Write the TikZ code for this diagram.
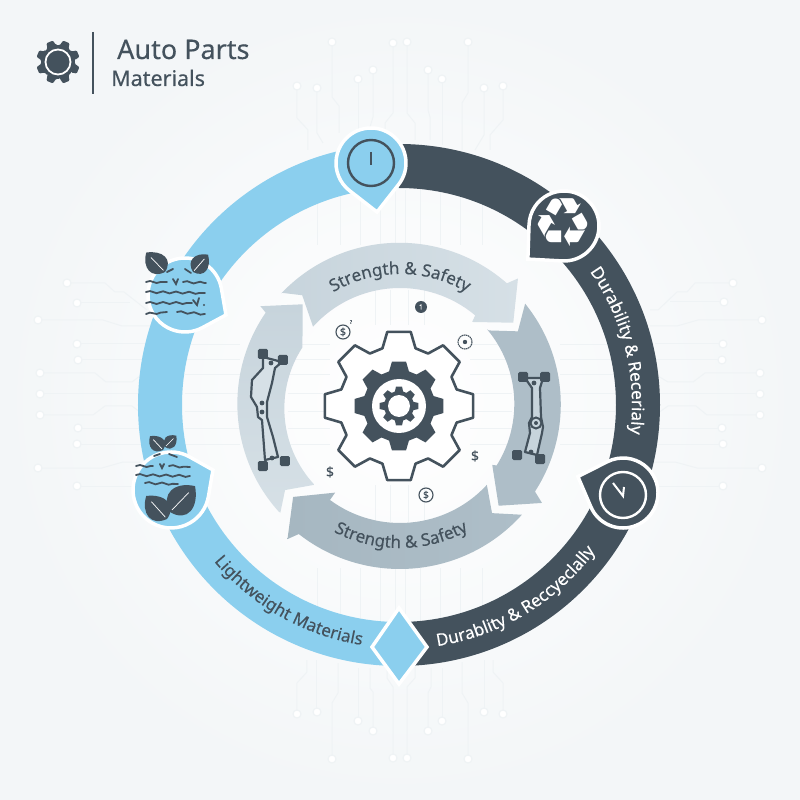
\documentclass[tikz,border=0pt]{standalone}
\usepackage{fontspec}
\setmainfont{Noto Sans}[FakeBold=0.35]
\newfontfamily\symbolfont{DejaVu Sans}
\usetikzlibrary{decorations.text, decorations.pathmorphing}

\definecolor{skyblue}{HTML}{8BCFEE}
\definecolor{slate}{HTML}{44525D}
\definecolor{tracegray}{HTML}{EFF3F5}
\definecolor{arrowpale}{HTML}{D6E0E6}
\definecolor{arrowlight}{HTML}{C7D4DC}
\definecolor{arrowmid}{HTML}{AEBEC8}
\definecolor{arrowdeep}{HTML}{A6B7C1}

\tikzset{
  px/.style={shift={(-400,405)}, y=-1pt},
  trace/.style={draw=tracegray, line width=1pt},
  tracedot/.style={draw=tracegray, line width=1.2pt, fill=white},
  bluepin/.style={fill=skyblue, draw=white, line width=3.5pt},
  darkpin/.style={fill=slate, draw=white, line width=3.5pt},
  wave/.style={draw=slate, line width=1.8pt, line cap=round, decorate,
    decoration={snake, amplitude=1pt, segment length=13pt}},
  stroke/.style={draw=slate, line width=1.8pt, line cap=round},
  armbody/.style={draw=slate, line width=2.2pt, fill=#1, line join=round},
  armpad/.style={fill=slate, rounded corners=1.5pt},
  leaficon/.pic={
    \fill[slate] (0,0) .. controls (.12,.55) and (.65,.5) .. (1,0)
      .. controls (.7,-.5) and (.17,-.55) .. (0,0) -- cycle;
    \draw[white, line width=.7pt] (.08,0) -- (.75,0);
  }
}

% pin: style, centre, radius, tip angle, half opening of the tip, tip distance
\newcommand{\pin}[6]{
  \path[#1, shift={(#2)}] ({#4+#5}:#3) arc[start angle={#4+#5}, delta angle={360-2*#5}, radius=#3]
    -- (#4:#6) -- cycle;
}
% gear: style, centre, root radius, tip radius
\newcommand{\gear}[4]{
  \path[shift={(#2)}, #1] (-16:#3) \foreach \a in {0,45,...,315} {
    -- ({\a-16}:#3) -- ({\a-9}:#4) -- ({\a+9}:#4) -- ({\a+16}:#3) -- ({\a+29}:#3)
  } -- cycle;
}
% curved label: colour, start angle, end angle, radius, text
\newcommand{\arclabel}[5]{
  \path[decorate, decoration={text along path, text align=center,
    text={|\fontsize{17}{20}\selectfont\color{#1}|#5}}]
    (#2:#4) arc[start angle=#2, end angle=#3, radius=#4];
}

\begin{document}
\begin{tikzpicture}[x=1pt, y=1pt]
  \useasboundingbox (-400,-395) rectangle (400,405);
  \shade[inner color=white, outer color=tracegray!75] (-400,-395) rectangle (400,405);

  % circuit traces behind the rings
  \begin{scope}[px]
    \draw[trace] (297,86) -- (297,118) -- (308,130) -- (308,150);
    \draw[trace] (317,88) -- (317,133) -- (323,143);
    \draw[trace] (332,42) -- (332,97) -- (339,106) -- (339,133);
    \draw[trace] (358,79) -- (358,130);
    \draw[trace] (373,70) -- (373,117) -- (370,127);
    \draw[trace] (393,43) -- (393,113) -- (385,123) -- (385,135);
    \draw[trace] (407,42) -- (407,113) -- (415,123) -- (415,140);
    \draw[trace] (428,70) -- (428,110) -- (430,117) -- (430,140);
    \draw[trace] (442,79) -- (442,145);
    \draw[trace] (468,42) -- (468,93) -- (462,103) -- (462,150);
    \draw[trace] (484,88) -- (484,135) -- (475,150);
    \draw[trace] (503,86) -- (503,120) -- (490,135) -- (490,150);
    \draw[trace] (67,283) -- (105,283) -- (115,292) -- (124,292) -- (147,310);
    \draw[trace] (77,303) -- (130,303);
    \draw[trace] (38,320) -- (103,320) -- (122,326) -- (150,326);
    \draw[trace] (40,373) -- (95,373) -- (106,382) -- (132,382) -- (140,376);
    \draw[trace] (40,415) -- (93,415) -- (105,406) -- (132,406) -- (140,412);
    \draw[trace] (38,468) -- (102,468) -- (123,462) -- (140,462);
    \draw[trace] (733,283) -- (695,283) -- (687,292) -- (677,292) -- (658,310) -- (650,310);
    \draw[trace] (724,302) -- (670,302);
    \draw[trace] (762,320) -- (698,320) -- (677,326) -- (650,326);
    \draw[trace] (760,373) -- (705,373) -- (693,382) -- (668,382) -- (658,376);
    \draw[trace] (760,415) -- (707,415) -- (696,406) -- (668,406) -- (658,413);
    \draw[trace] (762,468) -- (697,468) -- (675,462) -- (650,462);
    \foreach \y in {344,360,428,444,486} {
      \draw[trace] (77,\y) -- (145,\y);
      \draw[trace] (655,\y) -- (723,\y);
    }
    \draw[trace] (40,394) -- (145,394);
    \draw[trace] (760,394) -- (655,394);
    \draw[trace] (297,714) -- (297,683) -- (307,672) -- (307,660);
    \draw[trace] (317,712) -- (317,660);
    \draw[trace] (332,759) -- (332,703) -- (338,693) -- (338,663);
    \draw[trace] (358,721) -- (358,668);
    \draw[trace] (373,731) -- (373,692) -- (370,688) -- (370,668);
    \draw[trace] (393,758) -- (393,687) -- (387,678) -- (387,665);
    \draw[trace] (407,758) -- (407,687) -- (415,678) -- (415,665);
    \draw[trace] (428,731) -- (428,693) -- (431,687) -- (431,668);
    \draw[trace] (442,721) -- (442,668);
    \draw[trace] (468,759) -- (468,703) -- (462,693) -- (462,662);
    \draw[trace] (484,712) -- (484,660);
    \draw[trace] (503,714) -- (503,683) -- (493,672) -- (493,660);
    \foreach \x/\y in {297/86,317/88,332/42,358/79,373/70,393/43,407/42,428/70,442/79,468/42,484/88,503/86,
      67/283,77/303,38/320,77/344,78/360,40/373,40/394,40/415,78/428,77/444,38/468,77/486,
      733/283,724/302,762/320,723/344,722/360,760/373,760/394,760/415,722/428,723/444,762/468,723/486,
      297/714,317/712,332/759,358/721,373/731,393/758,407/758,428/731,442/721,468/759,484/712,503/714}
      \draw[tracedot] (\x,\y) circle[radius=4];
    % traces between the rings and inside the small ring
    \foreach \y in {345,360,375,394,412,428,444} {
      \draw[trace] (185,\y) -- (240,\y);
      \draw[trace] (560,\y) -- (615,\y);
      \draw[trace] (288,\y) -- (330,\y);
      \draw[trace] (470,\y) -- (512,\y);
    }
    \foreach \x in {318,340,360,380,395,405,420,440,460,482} {
      \draw[trace] (\x,190) -- (\x,245);
      \draw[trace] (\x,568) -- (\x,622);
    }
    \foreach \x in {375,390,408,424} {
      \draw[trace] (\x,290) -- (\x,325);
      \draw[trace] (\x,485) -- (\x,522);
    }
  \end{scope}

  % outer ring
  \begin{scope}[xshift=-1pt]
    \fill[skyblue] (90:261) arc[start angle=90, end angle=270, radius=261]
      -- (270:217) arc[start angle=270, end angle=90, radius=217] -- cycle;
    \fill[slate] (90:261) arc[start angle=90, end angle=-90, radius=261]
      -- (-90:217) arc[start angle=-90, end angle=90, radius=217] -- cycle;
  \end{scope}

  % inner arrows
  \shade[left color=arrowlight, right color=arrowpale] (136.5:163) -- (131.7:147) -- (138:117)
    arc[start angle=138, end angle=50, radius=117] -- (49:110) -- (36:140) -- (47:173) -- (48.7:162)
    arc[start angle=48.7, end angle=136.5, radius=163] -- cycle;
  \fill[arrowmid] (40:116) -- (32:139) -- (39:161)
    arc[start angle=39, end angle=-33, radius=160] -- (-34.6:172.5) -- (-45.6:141) -- (-33:110) -- (-32:114)
    arc[start angle=-32, end angle=40, radius=116] -- cycle;
  \shade[left color=arrowdeep, right color=arrowmid] (-42.6:118) -- (-49.6:142) -- (-42:164)
    arc[start angle=-42, end angle=-128.1, radius=164] -- (-130:175) -- (-139.3:141) -- (-126.5:109) -- (-126.4:118)
    arc[start angle=-126.4, end angle=-42.6, radius=118] -- cycle;
  \shade[top color=arrowlight, bottom color=arrowpale] (222:161) -- (216.5:143) -- (223:117)
    arc[start angle=223, end angle=147, radius=112] -- (134:140) -- (144.7:171) -- (145.5:163)
    arc[start angle=145.5, end angle=222, radius=161] -- cycle;

  % central gear
  \gear{fill=white, draw=slate, line width=2.6pt, line join=round}{-1,-1}{60}{75}
  \gear{fill=slate}{-1,-1}{36}{45}
  \fill[white] (-1,-1) circle[radius=27];
  \gear{fill=slate}{-1,-1}{15}{19.5}
  \fill[white] (-1,-1) circle[radius=11];

  % pins and diamond over the ring
  \pin{bluepin}{-29,242}{35}{-83}{44.9}{49.4}
  \pin{darkpin}{164,179}{35}{222.5}{44.4}{49}
  \pin{darkpin}{223,-88}{35}{160}{43.2}{48}
  \pin{bluepin}{-215,110}{37}{-26}{35.8}{45.6}
  \pin{bluepin}{-229,-85}{38}{25.5}{35.2}{46.5}
  \path[bluepin] (-1,-203) -- (-28,-242) -- (-1,-279) -- (27,-242) -- cycle;

  % ring labels
  \arclabel{white}{36}{-8}{232}{Durability {\&} Recerialy}
  \arclabel{white}{-85}{-33}{244}{Durablity {\&} Reccyeclally}
  \arclabel{slate}{219}{262}{243}{Lightweight Materials}
  \arclabel{slate}{122}{58}{131}{Strength {\&} Safety}
  \arclabel{slate}{241}{300}{143}{Strength {\&} Safety}

  \begin{scope}[px]
    % pin icons
    \draw[slate, line width=2.4pt] (371,163) circle[radius=23];
    \draw[slate, line width=2.4pt] (371,152) -- (371,165);
    \node[white, font=\symbolfont\fontsize{68}{72}\selectfont, inner sep=0pt] (recycle) at (563,223) {♻};
    \draw[white, line width=2.4pt] (623,495) circle[radius=23];
    \draw[white, line width=2pt] (613,483) -- (623,496) -- (624,487);

    % leaves and waves of the upper pin
    \pic[rotate=134, scale=27] at (165,272) {leaficon};
    \pic[rotate=49, scale=23] at (193,272) {leaficon};
    \draw[wave] (146,282) -- (167,282);
    \draw[wave] (183,282) -- (206,283);
    \draw[wave] (146,292) -- (205,293);
    \draw[wave] (146,303) -- (192,303);
    \draw[wave] (146,314) -- (167,312);
    \draw[wave] (177,312) -- (205,314);
    \draw[stroke] (167,272) -- (173,269);
    \draw[stroke] (185,269) -- (191,273);
    \draw[stroke] (173,279) -- (176,284) -- (178,279);
    \draw[stroke] (193,300) -- (197,305) -- (199,298);
    \fill[slate] (204,305) circle[radius=1.1];

    % leaves and waves of the lower pin
    \pic[rotate=132, scale=31] at (167,519) {leaficon};
    \pic[rotate=46, scale=36] at (170,512) {leaficon};
    \pic[rotate=133, scale=19] at (163,450) {leaficon};
    \pic[rotate=45, scale=16] at (165,447) {leaficon};
    \draw[wave] (136,466) -- (153,466);
    \draw[wave] (169,466) -- (190,467);
    \draw[wave] (136,475) -- (190,476);
    \draw[wave] (145,483) -- (178,484);
    \draw[stroke] (154,456) -- (160,454);
    \draw[stroke] (169,454) -- (177,457);
    \draw[stroke] (160,464) -- (162,468) -- (164,464);

    % left arm
    \draw[armbody=arrowpale] (263,357) -- (282,362) -- (275,368) -- (272,383) -- (267,402) -- (267,417)
      -- (273,437) -- (278,457) -- (265,460) -- (262,420) -- (258,417) -- (257,407)
      -- (251,397) -- (252,380) -- (263,368) -- cycle;
    \foreach \x/\y in {263/354,283/360,263/466,285/461}
      \fill[armpad] (\x-5,\y-5) rectangle (\x+5,\y+5);
    \foreach \x/\y in {271/363,262/403,262/412,272/458}
      \fill[slate] (\x,\y) circle[radius=2.4];

    % right arm
    \draw[armbody=arrowlight] (525,378) -- (543,378) -- (540,388) -- (541,417) -- (543,427) -- (542,433)
      -- (537,455) -- (525,452) -- (530,433) -- (529,423) -- (532,417) -- (532,388) -- cycle;
    \foreach \x/\y in {523/377,545/377,517/455,540/459}
      \fill[armpad] (\x-5,\y-5) rectangle (\x+5,\y+5);
    \filldraw[draw=slate, fill=arrowlight, line width=2pt] (536,423) circle[radius=5.5];
    \fill[slate] (536,423) circle[radius=2];
    \foreach \x/\y in {534/383,531/452}
      \fill[slate] (\x,\y) circle[radius=2.4];

    % small marks round the gear
    \draw[slate, line width=1.1pt] (343,332) circle[radius=7];
    \node[slate, font=\fontsize{10.5}{10}\selectfont, inner sep=0pt] (coinA) at (343,332) {\$};
    \node[slate, font=\fontsize{5}{5}\selectfont, inner sep=0pt] (coinMark) at (351,322) {?};
    \fill[slate] (421,307) circle[radius=6];
    \node[white, font=\fontsize{7}{7}\selectfont, inner sep=0pt] (coinB) at (421,307) {1};
    \draw[slate, line width=1.1pt, dash pattern=on 1.5pt off .6pt] (465,342) circle[radius=7];
    \fill[slate] (465,342) circle[radius=2.2];
    \node[slate, font=\fontsize{14}{14}\selectfont, inner sep=0pt] (dollarA) at (475,456) {\$};
    \node[slate, font=\fontsize{14}{14}\selectfont, inner sep=0pt] (dollarB) at (330,472) {\$};
    \draw[slate, line width=1.1pt] (426,495) circle[radius=7];
    \node[slate, font=\fontsize{10}{10}\selectfont, inner sep=0pt] (coinC) at (426,495) {\$};

    % title block
    \draw[slate, line width=1.1pt] (93,32) -- (93,94);
    \node[slate, anchor=base west, inner sep=0pt, font=\fontsize{27}{30}\selectfont] (title) at (117,59) {Auto Parts};
    \node[slate, anchor=base west, inner sep=0pt, font=\fontsize{21.5}{24}\selectfont] (subtitle) at (111,86) {Materials};
  \end{scope}

  % title gear
  \gear{fill=slate, rotate=22.5, rounded corners=1pt}{-342,343}{17}{22}
  \draw[white, line width=1.8pt] (-342,343) circle[radius=12.5];
\end{tikzpicture}
\end{document}
